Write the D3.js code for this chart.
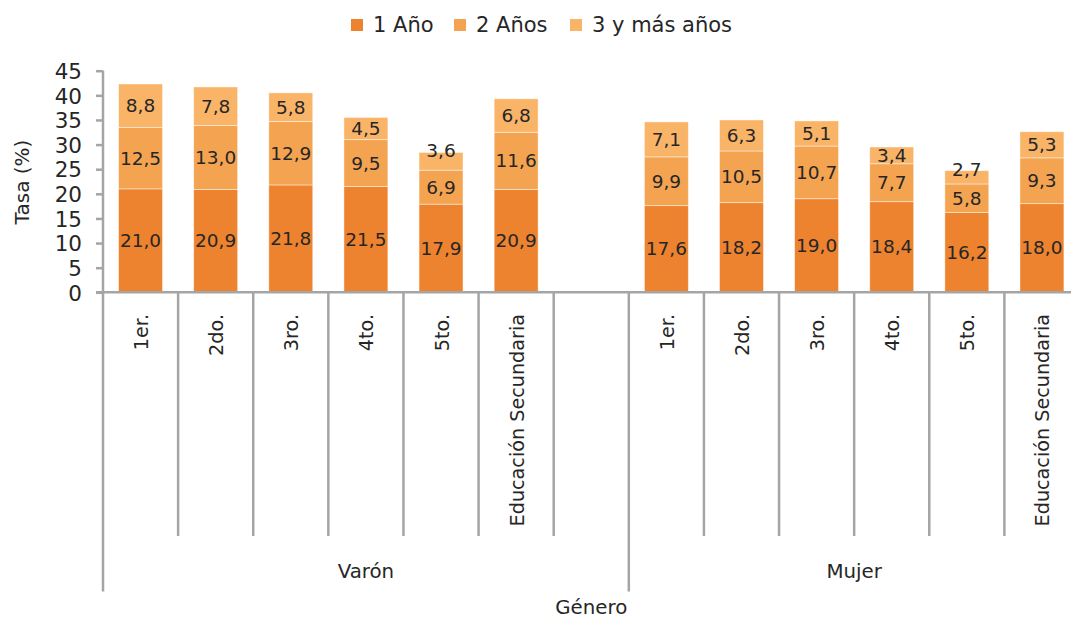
<!DOCTYPE html>
<html>
<head>
<meta charset="utf-8">
<script src="https://cdn.jsdelivr.net/npm/d3@7"></script>
<style>
  html, body { margin: 0; padding: 0; background: #fff; }
  svg { display: block; font-family: "DejaVu Sans", sans-serif; }
</style>
</head>
<body>
<svg id="chart" width="1071" height="619"></svg>
<script>
// Grades within each gender group
const grades = ["1er.", "2do.", "3ro.", "4to.", "5to.", "Educación Secundaria"];
const groups = ["Varón", "Mujer"];
const seriesNames = ["1 Año", "2 Años", "3 y más años"];

// Rates (%) by years of age lag, Varón
const varon1 = [21.0, 20.9, 21.8, 21.5, 17.9, 20.9];
const varon2 = [12.5, 13.0, 12.9, 9.5, 6.9, 11.6];
const varon3 = [8.8, 7.8, 5.8, 4.5, 3.6, 6.8];
// Rates (%) by years of age lag, Mujer
const mujer1 = [17.6, 18.2, 19.0, 18.4, 16.2, 18.0];
const mujer2 = [9.9, 10.5, 10.7, 7.7, 5.8, 9.3];
const mujer3 = [7.1, 6.3, 5.1, 3.4, 2.7, 5.3];

const yTicks = [0, 5, 10, 15, 20, 25, 30, 35, 40, 45];
const colors = ["#ED832E", "#F4A451", "#F9B468"];

// Top-segment labels that sit on the bar's upper edge
const labelsOnTop = new Set(["Varón|5to.", "Mujer|5to."]);

// Build the row table: Varón slots, one empty spacer slot, then Mujer slots
const rows = [];
grades.forEach((g, i) => rows.push({ key: "V" + i, group: "Varón", grade: g, vals: [varon1[i], varon2[i], varon3[i]] }));
rows.push({ key: "gap", group: "Varón", grade: null, vals: null });
grades.forEach((g, i) => rows.push({ key: "M" + i, group: "Mujer", grade: g, vals: [mujer1[i], mujer2[i], mujer3[i]] }));

const svg = d3.select("#chart");
const plotLeft = 103, plotRight = 1079.5, plotTop = 70.7, plotBottom = 292.3;
const gray = "#A5A5A5";
const textColor = "#262626";

const x = d3.scaleBand().domain(rows.map(r => r.key)).range([plotLeft, plotRight]).padding(0);
const y = d3.scaleLinear().domain([0, 45]).range([plotBottom, plotTop]);
const barFrac = 0.585;
const bw = x.bandwidth() * barFrac;

// Stacked data
const dataRows = rows.filter(r => r.vals);
const stack = d3.stack().keys([0, 1, 2]).value((d, k) => d.vals[k]);
const stacked = stack(dataRows);

// Bars
const layers = svg.append("g").selectAll("g").data(stacked).join("g")
  .attr("fill", (d, i) => colors[i]);
layers.selectAll("rect").data(d => d).join("rect")
  .attr("x", d => x(d.data.key) + (x.bandwidth() - bw) / 2)
  .attr("width", bw)
  .attr("y", d => y(d[1]))
  .attr("height", d => y(d[0]) - y(d[1]))
  .attr("stroke", "rgba(255,255,255,0.55)")
  .attr("stroke-width", 0.8);

// Value labels
const fmt = v => d3.format(".1f")(v).replace(".", ",");
stacked.forEach((layer, li) => {
  svg.append("g").selectAll("text").data(layer).join("text")
    .attr("x", d => x(d.data.key) + x.bandwidth() / 2)
    .attr("y", d => {
      const onTop = li === 2 && labelsOnTop.has(d.data.group + "|" + d.data.grade);
      return onTop ? y(d[1]) - 1.5 : (y(d[0]) + y(d[1])) / 2;
    })
    .attr("text-anchor", "middle")
    .attr("dominant-baseline", "central")
    .attr("font-size", "18.5px")
    .attr("fill", textColor)
    .text(d => fmt(d.data.vals[li]));
});

// Y axis
const yAxis = d3.axisLeft(y).tickValues(yTicks).tickSize(7).tickPadding(14);
const yg = svg.append("g").attr("transform", `translate(${plotLeft},0)`).call(yAxis);
yg.select(".domain").attr("stroke", gray).attr("stroke-width", 2.5)
  .attr("d", `M0,${plotTop}V${plotBottom}`);
yg.selectAll(".tick line").attr("stroke", gray).attr("stroke-width", 2.5);
yg.selectAll(".tick text").attr("font-size", "21.5px").attr("fill", textColor)
  .attr("font-family", "DejaVu Sans, sans-serif").attr("dy", "0.36em");

// X axis baseline
svg.append("line").attr("x1", plotLeft - 7).attr("x2", 1071).attr("y1", plotBottom).attr("y2", plotBottom)
  .attr("stroke", gray).attr("stroke-width", 2.5);

// Slot separators: short between grades, long at group boundaries
const boundaries = rows.map(r => x(r.key)).concat([plotRight]);
boundaries.forEach((bx, i) => {
  const isGroupEdge = i === 0 || i === 7 || i === rows.length;
  svg.append("line").attr("x1", bx).attr("x2", bx)
    .attr("y1", plotBottom).attr("y2", isGroupEdge ? 591.5 : 536)
    .attr("stroke", gray).attr("stroke-width", 2.5);
});

// Grade labels (rotated)
svg.append("g").selectAll("text").data(dataRows).join("text")
  .attr("transform", d => `translate(${x(d.key) + x.bandwidth() / 2 + 1},314) rotate(-90)`)
  .attr("text-anchor", "end")
  .attr("dominant-baseline", "central")
  .attr("font-size", "19.2px")
  .attr("fill", textColor)
  .text(d => d.grade);

// Group labels
groups.forEach(gName => {
  const keys = rows.filter(r => r.group === gName).map(r => r.key);
  const gx0 = x(keys[0]);
  const gx1 = x(keys[keys.length - 1]) + x.bandwidth();
  svg.append("text").attr("x", (gx0 + gx1) / 2).attr("y", 577.5)
    .attr("text-anchor", "middle").attr("font-size", "19.8px").attr("fill", textColor)
    .text(gName);
});

// Axis titles
svg.append("text").attr("x", (plotLeft + plotRight) / 2).attr("y", 614)
  .attr("text-anchor", "middle").attr("font-size", "19.8px").attr("fill", textColor)
  .text("Género");
svg.append("text").attr("transform", `translate(29,182) rotate(-90)`)
  .attr("text-anchor", "middle").attr("font-size", "20px").attr("fill", textColor)
  .text("Tasa (%)");

// Legend
const legendX = [351, 454, 570];
const legend = svg.append("g").selectAll("g").data(seriesNames).join("g")
  .attr("transform", (d, i) => `translate(${legendX[i]},25)`);
legend.append("rect").attr("x", 0).attr("y", -6).attr("width", 12).attr("height", 12)
  .attr("fill", (d, i) => colors[i]);
legend.append("text").attr("x", 22).attr("y", 0).attr("dominant-baseline", "central")
  .attr("font-size", "21px").attr("fill", textColor).text(d => d);
</script>
</body>
</html>
